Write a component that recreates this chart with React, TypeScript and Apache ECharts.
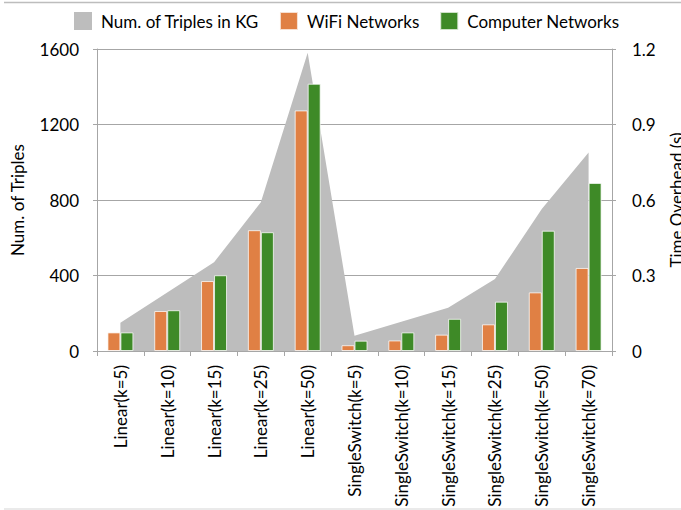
import React, { useEffect, useRef } from "react";
import * as echarts from "echarts";

const categories = [
  "Linear(k=5)",
  "Linear(k=10)",
  "Linear(k=15)",
  "Linear(k=25)",
  "Linear(k=50)",
  "SingleSwitch(k=5)",
  "SingleSwitch(k=10)",
  "SingleSwitch(k=15)",
  "SingleSwitch(k=25)",
  "SingleSwitch(k=50)",
  "SingleSwitch(k=70)",
];
const triples = [150, 310, 470, 788, 1580, 81, 155, 229, 381, 752, 1051];
const wifi = [0.074, 0.159, 0.278, 0.48, 0.956, 0.023, 0.042, 0.065, 0.106, 0.233, 0.33];
const computer = [0.074, 0.162, 0.301, 0.472, 1.062, 0.041, 0.074, 0.128, 0.196, 0.478, 0.668];

const FONT = "Lato";
const AXIS_GRAY = "#a6a6a6";

export default function App() {
  const ref = useRef<HTMLDivElement>(null);
  useEffect(() => {
    if (!ref.current) return;
    const chart = echarts.init(ref.current, null, { renderer: "svg" });
    chart.setOption({
      animation: false,
      backgroundColor: "#ffffff",
      textStyle: { fontFamily: FONT, color: "#000" },
      legend: {
        left: 69,
        top: 6,
        itemWidth: 18,
        itemHeight: 18,
        itemGap: 20,
        icon: "rect",
        textStyle: { fontFamily: FONT, fontSize: 17, color: "#000", padding: [0, 0, 0, 4] },
        data: ["Num. of Triples in KG", "WiFi Networks", "Computer Networks"],
      },
      graphic: [
        { type: "line", shape: { x1: 4, y1: 2.5, x2: 681, y2: 2.5 }, style: { stroke: "#bdbdbd", lineWidth: 1.5 } },
        { type: "line", shape: { x1: 4, y1: 509, x2: 681, y2: 509 }, style: { stroke: "#e3e3e3", lineWidth: 1.5 } },
      ],
      grid: { left: 97, right: 69, top: 49, bottom: 159, containLabel: false, outerBoundsMode: "none" },
      xAxis: {
        type: "category",
        data: categories,
        boundaryGap: true,
        axisLine: { show: true, lineStyle: { color: AXIS_GRAY, width: 1 } },
        axisTick: { show: true, alignWithLabel: false, length: 5, lineStyle: { color: AXIS_GRAY } },
        axisLabel: { rotate: 90, margin: 14, fontSize: 17, color: "#000", fontFamily: FONT, interval: 0 },
      },
      yAxis: [
        {
          type: "value",
          min: 0,
          max: 1600,
          interval: 400,
          name: "Num. of Triples",
          nameLocation: "middle",
          nameRotate: 90,
          nameGap: 71,
          nameTextStyle: { fontSize: 17, color: "#000", fontFamily: FONT },
          axisLine: { show: true, lineStyle: { color: AXIS_GRAY, width: 1 } },
          axisTick: { show: true, length: 4, lineStyle: { color: AXIS_GRAY } },
          axisLabel: {
            margin: 18,
            fontSize: 17,
            color: "#000",
            fontFamily: FONT,
            formatter: (v: number) => String(v),
          },
          splitLine: { show: true, lineStyle: { color: AXIS_GRAY, width: 1 } },
        },
        {
          type: "value",
          min: 0,
          max: 1.2,
          interval: 0.3,
          position: "right",
          name: "Time Overhead (s)",
          nameLocation: "middle",
          nameRotate: 90,
          nameGap: 56,
          nameTextStyle: { fontSize: 17, color: "#000", fontFamily: FONT },
          axisLine: { show: true, lineStyle: { color: AXIS_GRAY, width: 1 } },
          axisTick: { show: true, length: 4, lineStyle: { color: AXIS_GRAY } },
          axisLabel: {
            margin: 20,
            fontSize: 17,
            color: "#000",
            fontFamily: FONT,
            formatter: (v: number) => (v === 0 ? "0" : String(Math.round(v * 10) / 10)),
          },
          splitLine: { show: false },
        },
      ],
      series: [
        {
          name: "Num. of Triples in KG",
          type: "line",
          yAxisIndex: 0,
          data: triples,
          symbol: "none",
          color: "#bdbdbd",
          lineStyle: { width: 0, color: "#bdbdbd" },
          areaStyle: { color: "#bdbdbd", opacity: 1 },
          z: 1,
        },
        {
          name: "WiFi Networks",
          type: "bar",
          yAxisIndex: 1,
          data: wifi,
          barWidth: 13,
          barGap: "0%",
          color: "#e08044",
          itemStyle: { color: "#e08044", borderColor: "rgba(255,255,255,0.75)", borderWidth: 1 },
          z: 3,
        },
        {
          name: "Computer Networks",
          type: "bar",
          yAxisIndex: 1,
          data: computer,
          barWidth: 13,
          barGap: "0%",
          color: "#3e8a27",
          itemStyle: { color: "#3e8a27", borderColor: "rgba(255,255,255,0.75)", borderWidth: 1 },
          z: 3,
        },
      ],
    });
    return () => chart.dispose();
  }, []);
  return <div ref={ref} style={{ position: "fixed", left: 0, top: 0, width: 681, height: 510 }} />;
}
